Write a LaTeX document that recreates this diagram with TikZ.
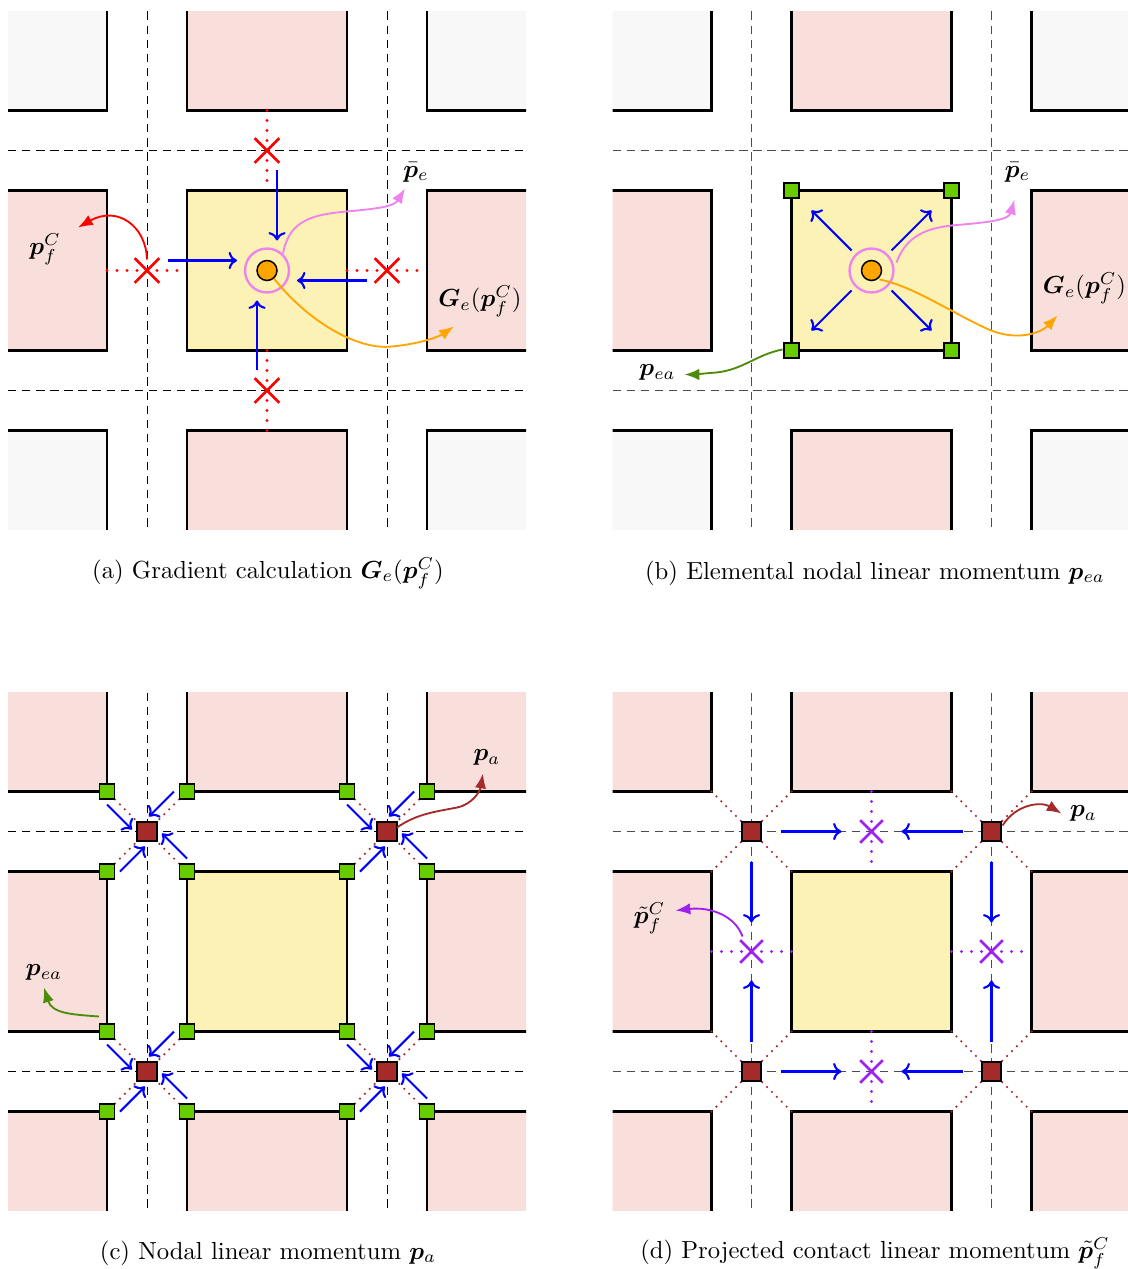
\documentclass[tikz,border=0pt]{standalone}
\usepackage{amsmath,bm}
\usetikzlibrary{arrows.meta,shapes.misc}
\definecolor{pinkE}{RGB}{249,223,219}
\definecolor{grayE}{RGB}{248,248,248}
\definecolor{yellowE}{RGB}{253,242,181}
\definecolor{greenN}{RGB}{102,204,0}
\definecolor{brownN}{RGB}{165,42,42}
\definecolor{purpleX}{RGB}{160,32,240}
\definecolor{violetC}{RGB}{238,130,238}
\definecolor{orangeC}{RGB}{255,165,0}
\definecolor{greenA}{RGB}{77,140,10}
\tikzset{
  elem/.style={draw=black, line width=0.85pt, line join=miter},
  gridline/.style={line width=0.4pt, dash pattern=on 3.4pt off 2.3pt},
  bluearrow/.style={blue, line width=0.85pt, -{To[length=3.4pt,width=7pt]}},
  labarrow/.style={line width=0.75pt, -{Latex[length=6pt,width=4.6pt]}},
  gnode/.style={rectangle, draw=black, fill=greenN, line width=0.7pt, minimum size=6pt, inner sep=0pt},
  rnode/.style={rectangle, draw=black, fill=brownN, line width=0.8pt, minimum size=7.8pt, inner sep=0pt},
  redx/.style={cross out, draw=red, line width=1.1pt, minimum size=8.9pt, inner sep=0pt},
  purx/.style={cross out, draw=purpleX, line width=1.1pt, minimum size=8.1pt, inner sep=0pt},
  reddots/.style={red, line width=1.35pt, line cap=round, dash pattern=on 0pt off 4.05pt},
  purdots/.style={purpleX, line width=1.35pt, line cap=round, dash pattern=on 0pt off 4.05pt},
  browndots/.style={brownN, line width=1pt, line cap=round, dash pattern=on 0pt off 2.8pt},
  ring/.style={circle, draw=violetC, line width=0.95pt, minimum size=17.8pt, inner sep=0pt},
  core/.style={circle, draw=black, fill=orangeC, line width=0.6pt, minimum size=8.1pt, inner sep=0pt},
  lab/.style={inner sep=0pt},
  capt/.style={inner sep=0pt},
}
\newcommand\panelgrid[2]{%
  \begin{scope}
    \clip (-259,-259) rectangle (259,259);
    \foreach \i in {-1,0,1}{\foreach \j in {-1,0,1}{
      \pgfmathtruncatemacro\n{abs(\i)+abs(\j)}
      \ifcase\n \def\fc{yellowE}\or \def\fc{pinkE}\or \def\fc{#1}\fi
      \pgfmathsetmacro\xa{240*\i-80}\pgfmathsetmacro\xb{240*\i+80}
      \pgfmathsetmacro\ya{240*\j-80}\pgfmathsetmacro\yb{240*\j+80}
      \fill[\fc] (\xa,\ya) -- (\xb,\ya) -- (\xb,\yb) -- (\xa,\yb) -- cycle;
      \draw[elem] (\xa,\ya) -- (\xb,\ya) -- (\xb,\yb) -- (\xa,\yb) -- cycle;
    }}
    \draw[gridline,#2] (-120,-259) -- (-120,259);
    \draw[gridline,#2] (120,-259) -- (120,259);
    \draw[gridline,#2] (-259,-120) -- (259,-120);
    \draw[gridline,#2] (-259,120) -- (259,120);
  \end{scope}}
\begin{document}
\begin{tikzpicture}[x=0.405pt, y=-0.405pt]
\useasboundingbox (0,0) rectangle (1127,1269);

% ---------------- panel (a)
\begin{scope}[shift={(267,270.5)}]
  \panelgrid{grayE}{black}
  \draw[reddots] (0,-160) -- (0,-80);
  \draw[reddots] (0,80) -- (0,160);
  \draw[reddots] (-160,0) -- (-80,0);
  \draw[reddots] (80,0) -- (160,0);
  \node[redx] (axt) at (0,-120) {};
  \node[redx] (axl) at (-120,0) {};
  \node[redx] (axr) at (120,0) {};
  \node[redx] (axb) at (0,120) {};
  \node[ring] (aring) at (0,0) {};
  \node[core] (acore) at (0,0) {};
  \coordinate (at1) at (10,-100);  \coordinate (at2) at (10,-30);
  \coordinate (al1) at (-99,-10);  \coordinate (al2) at (-30,-10);
  \coordinate (ar1) at (100,10);   \coordinate (ar2) at (30,10);
  \coordinate (ab1) at (-10,100);  \coordinate (ab2) at (-10,30);
  \draw[bluearrow] (at1) -- (at2);
  \draw[bluearrow] (al1) -- (al2);
  \draw[bluearrow] (ar1) -- (ar2);
  \draw[bluearrow] (ab1) -- (ab2);
  \node[lab] (ape) at (149,-98) {$\bar{\bm p}_e$};
  \node[lab] (aG) at (213,31) {$\bm{G}_e(\bm{p}_f^C)$};
  \node[lab] (apf) at (-222,-21) {$\bm{p}_f^C$};
  \coordinate (apeT) at (138,-82);
  \coordinate (aGT) at (187,56);
  \coordinate (apfT) at (-189,-43);
  \draw[labarrow, violetC] (16,-17) .. controls (22,-50) and (45,-56) .. (80,-59) .. controls (112,-62) and (127,-64) .. (apeT);
  \draw[labarrow, orangeC] (7,8) .. controls (40,50) and (90,80) .. (125,76) .. controls (155,73) and (172,66) .. (aGT);
  \draw[labarrow, red] (-120,-11) .. controls (-121,-45) and (-150,-65) .. (apfT);
\end{scope}
\node[capt] (capa) at (268,573) {(a) Gradient calculation $\bm{G}_e(\bm{p}_f^C)$};

% ---------------- panel (b)
\begin{scope}[shift={(871.5,270.5)}]
  \panelgrid{grayE}{black!70}
  \node[gnode] (bg1) at (-80,-80) {};
  \node[gnode] (bg2) at (80,-80) {};
  \node[gnode] (bg3) at (80,80) {};
  \node[gnode] (bg4) at (-80,80) {};
  \node[ring] (bring) at (0,0) {};
  \node[core] (bcore) at (0,0) {};
  \draw[bluearrow] (-20,-20) -- (-60,-60);
  \draw[bluearrow] (20,-20) -- (60,-60);
  \draw[bluearrow] (20,20) -- (60,60);
  \draw[bluearrow] (-20,20) -- (-60,60);
  \node[lab] (bpe) at (146,-98) {$\bar{\bm p}_e$};
  \node[lab] (bG) at (213,18) {$\bm{G}_e(\bm{p}_f^C)$};
  \node[lab] (bpea) at (-214,102) {$\bm{p}_{ea}$};
  \coordinate (bpeT) at (143,-71);
  \coordinate (bGT) at (186,45);
  \coordinate (bpeaT) at (-187,104);
  \draw[labarrow, violetC] (25,-8) .. controls (35,-35) and (55,-42) .. (80,-45) .. controls (115,-48) and (137,-50) .. (bpeT);
  \draw[labarrow, orangeC] (8,9) .. controls (40,15) and (80,42) .. (115,58) .. controls (145,72) and (170,62) .. (bGT);
  \draw[labarrow, greenA] (-89,79) .. controls (-115,84) and (-128,99) .. (-155,102) .. controls (-168,103) and (-178,104) .. (bpeaT);
\end{scope}
\node[capt] (capb) at (875,573) {(b) Elemental nodal linear momentum $\bm{p}_{ea}$};

% ---------------- panel (c)
\begin{scope}[shift={(267,951.5)}]
  \panelgrid{pinkE}{black}
  \foreach \nx/\ny/\k in {-120/-120/1, 120/-120/2, 120/120/3, -120/120/4}{
    \foreach \sx/\sy in {-1/-1, 1/-1, 1/1, -1/1}{
      \draw[browndots] (\nx+32*\sx,\ny+32*\sy) -- (\nx+10*\sx,\ny+10*\sy);
    }
    \foreach \ax/\ay/\bx/\by in {-40/-27/-15/-2, 27/-40/2/-15, 40/27/15/2, -27/40/-2/15}{
      \draw[bluearrow] (\nx+\ax,\ny+\ay) -- (\nx+\bx,\ny+\by);
    }
    \foreach \sx/\sy/\m in {-1/-1/1, 1/-1/2, 1/1/3, -1/1/4}{
      \node[gnode] (cg\k\m) at (\nx+40*\sx,\ny+40*\sy) {};
    }
    \node[rnode] (cn\k) at (\nx,\ny) {};
  }
  \node[lab] (cpa) at (220,-194) {$\bm{p}_a$};
  \node[lab] (cpea) at (-223,21) {$\bm{p}_{ea}$};
  \coordinate (cpaT) at (216,-178);
  \coordinate (cpeaT) at (-223,36);
  \draw[labarrow, brownN] (130,-124) .. controls (150,-138) and (170,-140) .. (190,-144) .. controls (205,-147) and (213,-160) .. (cpaT);
  \draw[labarrow, greenA] (-168,65) .. controls (-195,63) and (-215,62) .. (cpeaT);
\end{scope}
\node[capt] (capc) at (268,1253) {(c) Nodal linear momentum $\bm{p}_a$};

% ---------------- panel (d)
\begin{scope}[shift={(871.5,951.5)}]
  \panelgrid{pinkE}{black!70}
  \foreach \nx/\ny/\k in {-120/-120/1, 120/-120/2, 120/120/3, -120/120/4}{
    \foreach \sx/\sy in {-1/-1, 1/-1, 1/1, -1/1}{
      \draw[browndots] (\nx+40*\sx,\ny+40*\sy) -- (\nx+10*\sx,\ny+10*\sy);
    }
  }
  \draw[purdots] (0,-160) -- (0,-80);
  \draw[purdots] (0,80) -- (0,160);
  \draw[purdots] (-160,0) -- (-80,0);
  \draw[purdots] (80,0) -- (160,0);
  \node[purx] (dxt) at (0,-120) {};
  \node[purx] (dxl) at (-120,0) {};
  \node[purx] (dxr) at (120,0) {};
  \node[purx] (dxb) at (0,120) {};
  \node[rnode] (dn1) at (-120,-120) {};
  \node[rnode] (dn2) at (120,-120) {};
  \node[rnode] (dn3) at (120,120) {};
  \node[rnode] (dn4) at (-120,120) {};
  \draw[bluearrow] (-91,-120) -- (-30,-120);
  \draw[bluearrow] (91,-120) -- (30,-120);
  \draw[bluearrow] (-91,120) -- (-30,120);
  \draw[bluearrow] (91,120) -- (30,120);
  \draw[bluearrow] (-120,-90) -- (-120,-29);
  \draw[bluearrow] (-120,90) -- (-120,29);
  \draw[bluearrow] (120,-90) -- (120,-29);
  \draw[bluearrow] (120,90) -- (120,29);
  \node[lab] (dpa) at (212,-138) {$\bm{p}_a$};
  \node[lab] (dpf) at (-222,-33) {$\tilde{\bm p}_f^C$};
  \coordinate (dpaT) at (190,-138);
  \coordinate (dpfT) at (-196,-41);
  \draw[labarrow, brownN] (131,-126) .. controls (145,-148) and (170,-150) .. (dpaT);
  \draw[labarrow, purpleX] (-129,-15) .. controls (-136,-35) and (-160,-45) .. (dpfT);
\end{scope}
\node[capt] (capd) at (875,1253) {(d) Projected contact linear momentum $\tilde{\bm p}_f^C$};
\end{tikzpicture}
\end{document}
